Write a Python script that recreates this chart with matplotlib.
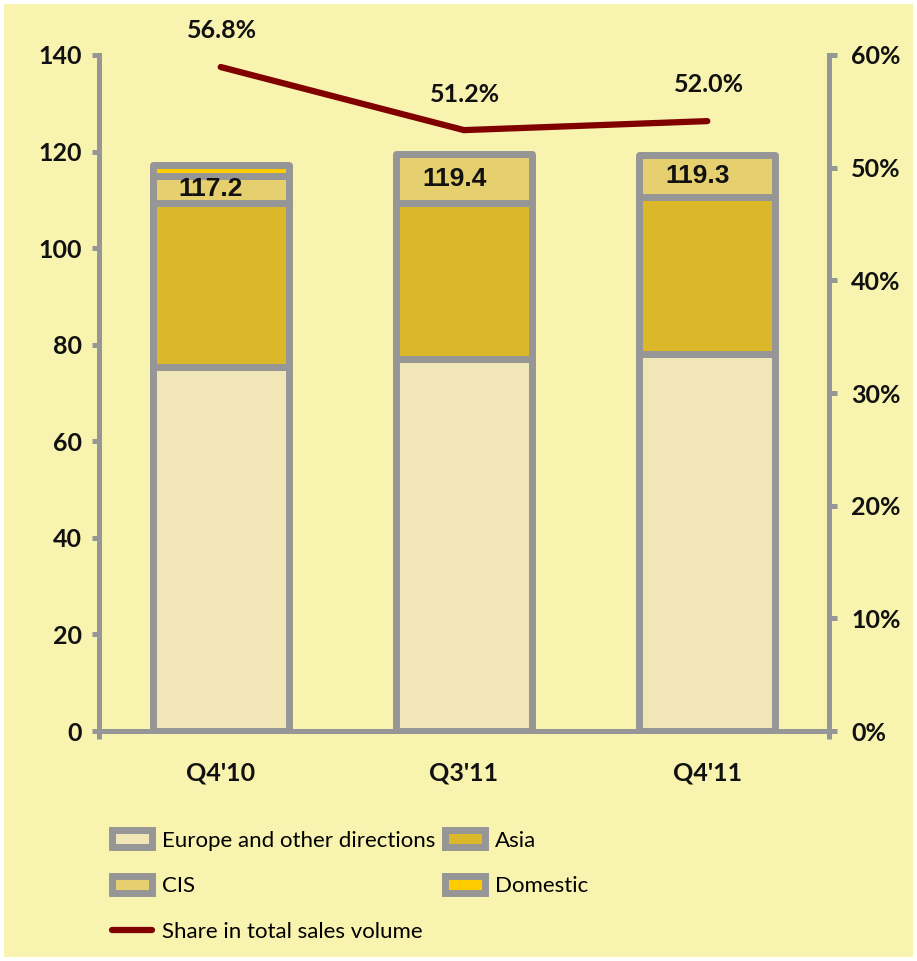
import matplotlib.pyplot as plt
import numpy as np
from matplotlib.patches import Rectangle
from matplotlib.ticker import FuncFormatter

quarters = ["Q4'10", "Q3'11", "Q4'11"]
europe = [75.3, 77.1, 78.1]
asia = [34.1, 32.2, 32.4]
cis = [5.6, 10.1, 8.8]
domestic = [2.2, 0.0, 0.0]
totals = [117.2, 119.4, 119.3]
share = [56.8, 51.2, 52.0]

BG = '#F8F3AE'
GRAY = '#969696'
colors = {'Europe and other directions': '#F0E6B8', 'Asia': '#DBB82A',
          'CIS': '#E6CF6E', 'Domestic': '#FFCC00'}
LINE = '#800000'

fig = plt.figure(figsize=(9.17, 9.61), dpi=100)
fig.patch.set_facecolor('white')
fig.patches.append(Rectangle((0.004, 0.004), 0.992, 0.992, transform=fig.transFigure,
                             facecolor=BG, edgecolor='none', zorder=-10))

ax = fig.add_axes([0.108, 0.2393, 0.796, 0.7035])
ax.set_facecolor('none')
x = np.arange(len(quarters))
w = 0.56

bottom = np.zeros(len(quarters))
handles = []
for name, vals in [('Europe and other directions', europe), ('Asia', asia),
                   ('CIS', cis), ('Domestic', domestic)]:
    b = ax.bar(x, vals, w, bottom=bottom, color=colors[name], edgecolor=GRAY,
               linewidth=5, joinstyle='round', label=name, zorder=2)
    handles.append(b)
    bottom = bottom + np.array(vals)

# total labels sit in the middle of the CIS segment
for i in range(len(quarters)):
    ypos = europe[i] + asia[i] + cis[i] / 2
    ax.text(x[i] - 0.04, ypos, f'{totals[i]:.1f}', ha='center', va='center',
            fontsize=19, fontweight='bold', family='Liberation Sans',
            color='#111111', zorder=5)

ax.set_xlim(-0.5, 2.5)
ax.set_ylim(0, 140)
ax.set_yticks(range(0, 141, 20))
ax.set_xticks(x)
ax.set_xticklabels(quarters, fontsize=18, fontweight='bold', family='Lato', color='#111111')
ax.set_xticks([-0.5, 2.5], minor=True)
ax.tick_params(axis='x', which='major', length=0, pad=22)
ax.tick_params(axis='x', which='minor', length=6, width=3.6, color=GRAY)
ax.tick_params(axis='y', length=5, width=3.6, color=GRAY, pad=7)
for lab in ax.get_yticklabels():
    lab.set_fontsize(18)
    lab.set_fontweight('bold')
    lab.set_family('Lato')
    lab.set_color('#111111')
ax.spines['top'].set_visible(False)
ax.spines['right'].set_visible(False)
for s in ['left', 'bottom']:
    ax.spines[s].set_color(GRAY)
    ax.spines[s].set_linewidth(3.6)

ax2 = ax.twinx()
ax2.set_ylim(0, 60)
ax2.set_yticks(range(0, 61, 10))
ax2.yaxis.set_major_formatter(FuncFormatter(lambda v, p: f'{v:.0f}%'))
ax2.tick_params(axis='y', length=6, width=3.6, color=GRAY, pad=10)
for lab in ax2.get_yticklabels():
    lab.set_fontsize(18)
    lab.set_fontweight('bold')
    lab.set_family('Lato')
    lab.set_color('#111111')
for s in ['top', 'left', 'bottom']:
    ax2.spines[s].set_visible(False)
ax2.spines['right'].set_color(GRAY)
ax2.spines['right'].set_linewidth(3.6)

# share line drawn on its own hidden axis (shifted like the original)
ax3 = ax.twinx()
ax3.set_ylim(-2.13, 57.87)
ax3.axis('off')
ln, = ax3.plot(x, share, color=LINE, linewidth=4.5, solid_capstyle='round',
               solid_joinstyle='round', label='Share in total sales volume')
for i, v in enumerate(share):
    ax3.annotate(f'{v:.1f}%', (x[i], v), xytext=(1, 26), textcoords='offset points',
                 ha='center', va='center', fontsize=18, fontweight='bold',
                 family='Lato', color='#111111')

leg_handles = [handles[0], handles[2], ln, handles[1], handles[3]]
leg = fig.legend(leg_handles, [h.get_label() for h in leg_handles], ncol=2,
                 loc='upper left', bbox_to_anchor=(0.122, 0.136), frameon=False,
                 prop={'family': 'Lato', 'size': 16}, handlelength=1.8,
                 handleheight=0.8, handletextpad=0.45, columnspacing=0.45,
                 labelspacing=1.15, borderaxespad=0, borderpad=0)

fig.savefig('out.png', dpi=100, facecolor=fig.get_facecolor())
